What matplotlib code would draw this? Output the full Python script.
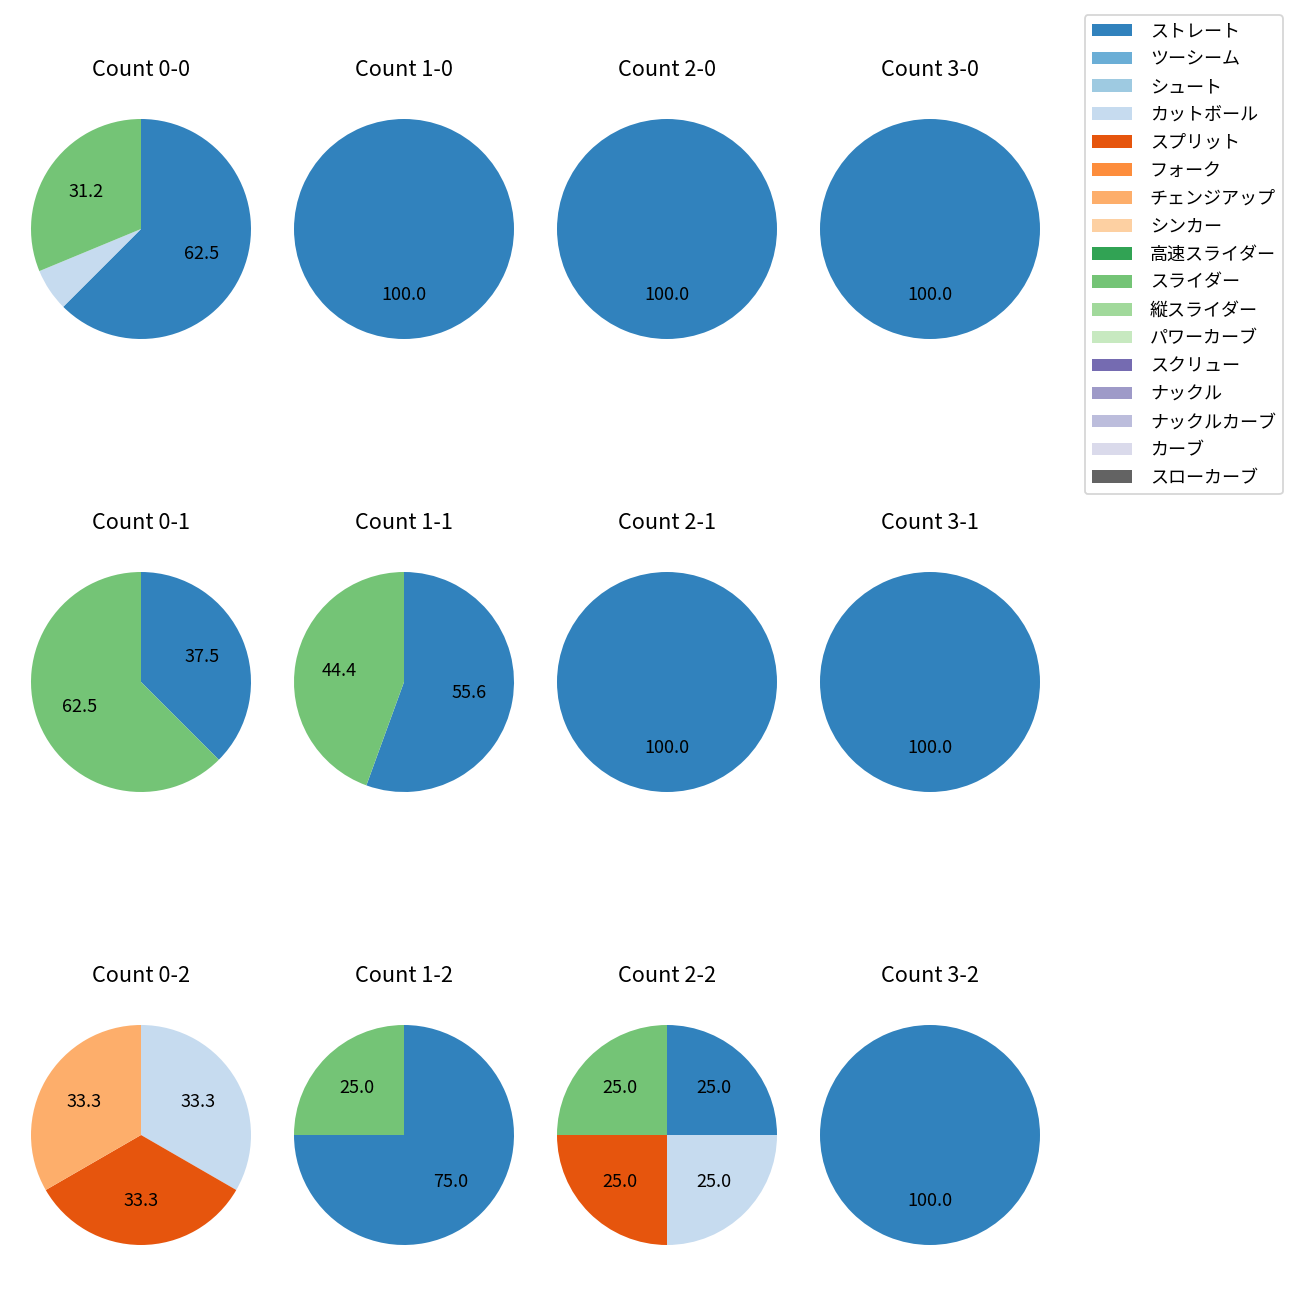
import matplotlib
matplotlib.use("Agg")
import matplotlib.pyplot as plt
from matplotlib.patches import Patch

plt.rcParams['font.family'] = ['Noto Sans CJK JP', 'DejaVu Sans']

# pitch types and colours (tab20c order)
pitch_types = ["ストレート", "ツーシーム", "シュート", "カットボール", "スプリット", "フォーク",
               "チェンジアップ", "シンカー", "高速スライダー", "スライダー", "縦スライダー",
               "パワーカーブ", "スクリュー", "ナックル", "ナックルカーブ", "カーブ", "スローカーブ"]
pitch_colors = ["#3182bd", "#6baed6", "#9ecae1", "#c6dbef", "#e6550d", "#fd8d3c",
                "#fdae6b", "#fdd0a2", "#31a354", "#74c476", "#a1d99b", "#c7e9c0",
                "#756bb1", "#9e9ac8", "#bcbddc", "#dadaeb", "#636363"]

# pitch counts per ball-strike count
counts = {
    "0-0": {"ストレート": 10, "カットボール": 1, "スライダー": 5},
    "1-0": {"ストレート": 3},
    "2-0": {"ストレート": 2},
    "3-0": {"ストレート": 1},
    "0-1": {"ストレート": 3, "スライダー": 5},
    "1-1": {"ストレート": 5, "スライダー": 4},
    "2-1": {"ストレート": 2},
    "3-1": {"ストレート": 1},
    "0-2": {"カットボール": 1, "スプリット": 1, "チェンジアップ": 1},
    "1-2": {"ストレート": 3, "スライダー": 1},
    "2-2": {"ストレート": 1, "カットボール": 1, "スプリット": 1, "スライダー": 1},
    "3-2": {"ストレート": 2},
}

color_map = dict(zip(pitch_types, pitch_colors))

W = 1300.0
fig = plt.figure(figsize=(10, 10), dpi=130)

col_centers = [141, 404, 667, 930]
row_centers = [229, 682, 1135]
radius = 110.0
half_w = 131.5
half_h = 142.0

for strikes in range(3):
    for balls in range(4):
        key = f"{balls}-{strikes}"
        cx = col_centers[balls]
        cy = row_centers[strikes]
        ax = fig.add_axes([(cx - half_w) / W, 1 - (cy + half_h) / W,
                           2 * half_w / W, 2 * half_h / W])
        data = counts[key]
        labels = [p for p in pitch_types if p in data]
        vals = [data[p] for p in labels]
        cols = [color_map[p] for p in labels]
        ax.pie(vals, colors=cols, startangle=90, counterclock=False,
               autopct=lambda p: f"{p:.1f}" if p >= 10 else "",
               textprops={'fontsize': 10})
        ax.set_aspect('auto')
        ax.set_xlim(-half_w / radius, half_w / radius)
        ax.set_ylim(-half_h / radius, half_h / radius)
        ax.set_title(f"Count {key}", fontsize=12)

handles = [Patch(facecolor=c, label=t) for t, c in zip(pitch_types, pitch_colors)]
fig.legend(handles=handles, loc='upper right', bbox_to_anchor=(1283 / W, 1 - 15 / W),
           borderaxespad=0, fontsize=10, labelspacing=0.55,
           handlelength=2.2, handletextpad=1.0)

fig.savefig("out.png", dpi=130)
